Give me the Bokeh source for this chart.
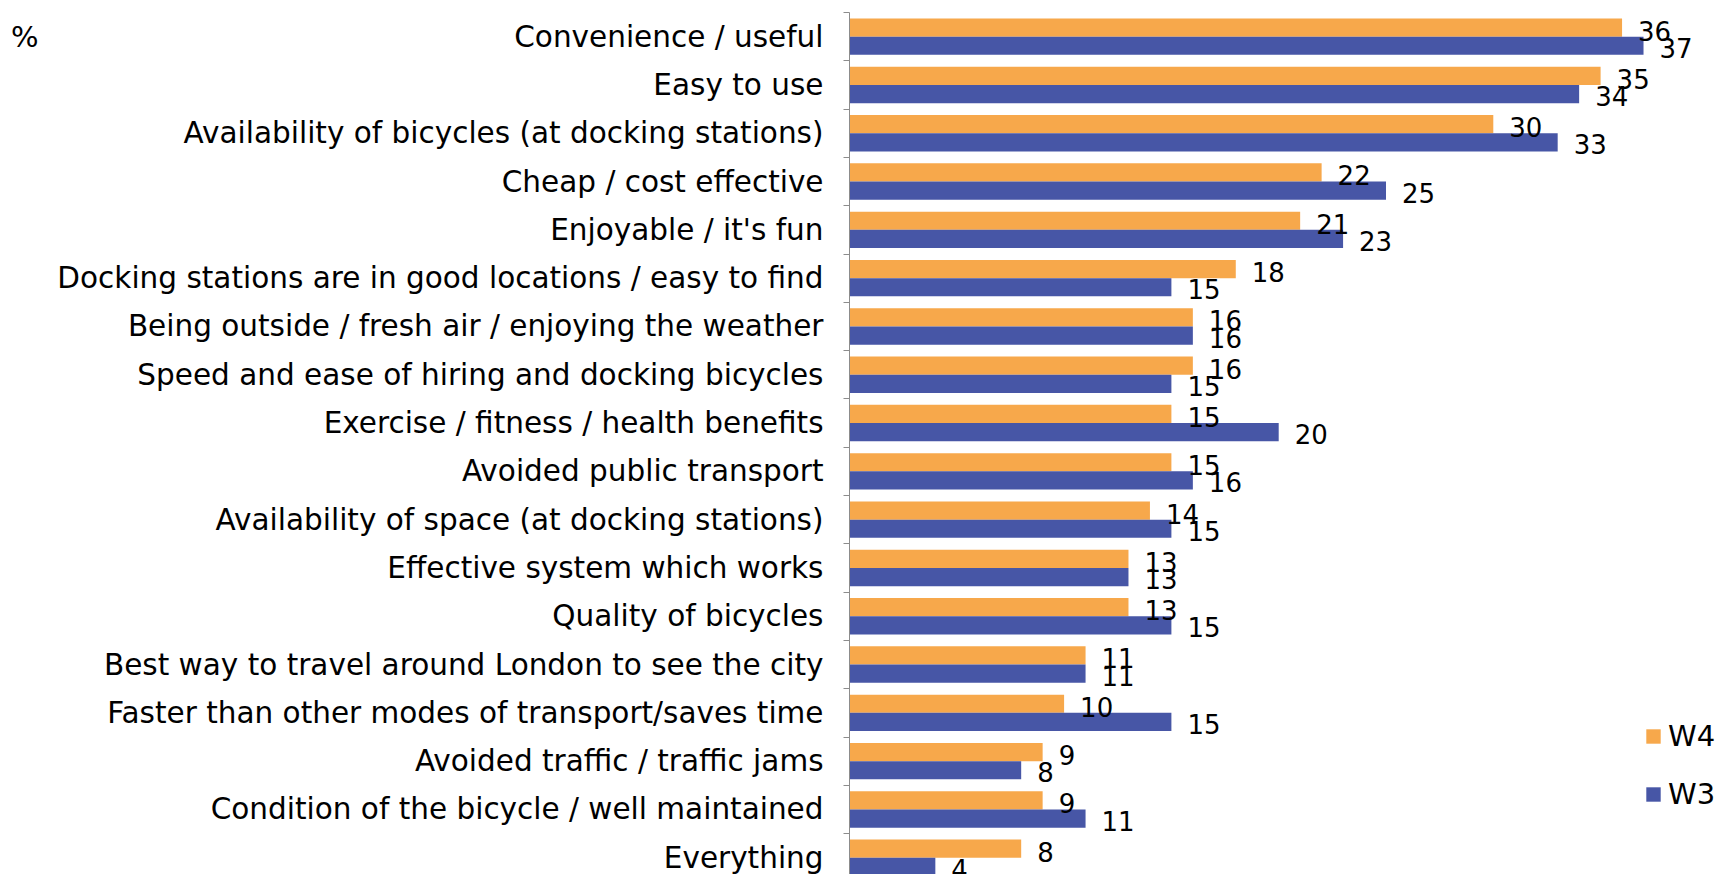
from bokeh.plotting import figure
from bokeh.models import Range1d, FixedTicker, ColumnDataSource, Legend, LegendItem, LinearAxis
from bokeh.transform import dodge
from bokeh.core.properties import value
from bokeh.embed import file_html
from bokeh.resources import INLINE

categories = [
    "Convenience / useful",
    "Easy to use",
    "Availability of bicycles (at docking stations)",
    "Cheap / cost effective",
    "Enjoyable / it's fun",
    "Docking stations are in good locations / easy to find",
    "Being outside / fresh air / enjoying the weather",
    "Speed and ease of hiring and docking bicycles",
    "Exercise / fitness / health benefits",
    "Avoided public transport",
    "Availability of space (at docking stations)",
    "Effective system which works",
    "Quality of bicycles",
    "Best way to travel around London to see the city",
    "Faster than other modes of transport/saves time",
    "Avoided traffic / traffic jams",
    "Condition of the bicycle / well maintained",
    "Everything",
]
w4 = [36, 35, 30, 22, 21, 18, 16, 16, 15, 15, 14, 13, 13, 11, 10, 9, 9, 8]
w3 = [37, 34, 33, 25, 23, 15, 16, 15, 20, 16, 15, 13, 15, 11, 15, 8, 11, 4]
series_names = ["W4", "W3"]
unit_label = "%"
colors = ["#F7A84B", "#4756A6"]

FONT = "DejaVu Sans"
ROW_PX = 48.3
UNIT_PX = 21.46

W, H = 1722, 874
LEFT, TOP = 849, 12
frame_h = H - TOP
frame_w = W - LEFT

idx = list(range(len(categories)))
src = ColumnDataSource(dict(
    y=idx, cat=categories, w4=w4, w3=w3,
    w4_txt=[str(v) for v in w4], w3_txt=[str(v) for v in w3],
))

p = figure(
    width=W, height=H, output_backend="svg", toolbar_location=None,
    x_range=Range1d(0, frame_w / UNIT_PX),
    y_range=Range1d(start=-0.5 + frame_h / ROW_PX, end=-0.5),
    min_border_left=LEFT, min_border_right=0, min_border_top=TOP, min_border_bottom=0,
    x_axis_location=None,
)
p.outline_line_color = None
p.xgrid.visible = False
p.ygrid.visible = False
p.background_fill_color = "white"
p.border_fill_color = "white"

BH = 0.377
OFF = BH / 2
r4 = p.hbar(y=dodge("y", -OFF, range=p.y_range), right="w4", left=0, height=BH,
            source=src, fill_color=colors[0], line_color=None)
r3 = p.hbar(y=dodge("y", OFF, range=p.y_range), right="w3", left=0, height=BH,
            source=src, fill_color=colors[1], line_color=None)

p.text(x="w4", y=dodge("y", -OFF, range=p.y_range), text="w4_txt", source=src,
       x_offset=16, y_offset=3, text_font=value(FONT), text_font_size="26px",
       text_baseline="middle", text_align="left", text_color="black")
p.text(x="w3", y=dodge("y", OFF, range=p.y_range), text="w3_txt", source=src,
       x_offset=16, y_offset=2, text_font=value(FONT), text_font_size="26px",
       text_baseline="middle", text_align="left", text_color="black")

ax = p.yaxis[0]
ax.ticker = FixedTicker(ticks=idx, minor_ticks=[i - 0.5 for i in range(len(categories) + 1)])
ax.major_label_overrides = {i: c for i, c in enumerate(categories)}
ax.major_tick_out = 0
ax.major_tick_in = 0
ax.minor_tick_out = 6
ax.minor_tick_in = 0
ax.minor_tick_line_color = "#8c8c8c"
ax.axis_line_color = "#8c8c8c"
ax.major_label_text_font = FONT
ax.major_label_text_font_size = "29.5px"
ax.major_label_text_color = "black"
ax.major_label_standoff = 20

# outer left axis carrying only the unit marker "%"
ax2 = LinearAxis(
    ticker=FixedTicker(ticks=[0]),
    major_label_overrides={0: unit_label},
    axis_line_color=None, major_tick_line_color=None, minor_tick_line_color=None,
    major_tick_out=0, major_tick_in=0, minor_tick_out=0, minor_tick_in=0,
    major_label_standoff=16,
    major_label_text_font=FONT, major_label_text_font_size="29px",
    major_label_text_color="black",
)
p.add_layout(ax2, "left")

legend = Legend(
    items=[LegendItem(label=series_names[0], renderers=[r4]),
           LegendItem(label=series_names[1], renderers=[r3])],
    location=(795, 63),
    glyph_width=18, glyph_height=18, label_standoff=6,
    label_text_font=FONT, label_text_font_size="29px", label_text_color="black",
    spacing=24, padding=0, margin=0,
    border_line_color=None, background_fill_alpha=0,
)
p.add_layout(legend)

open("out.html", "w").write(file_html(p, INLINE))
